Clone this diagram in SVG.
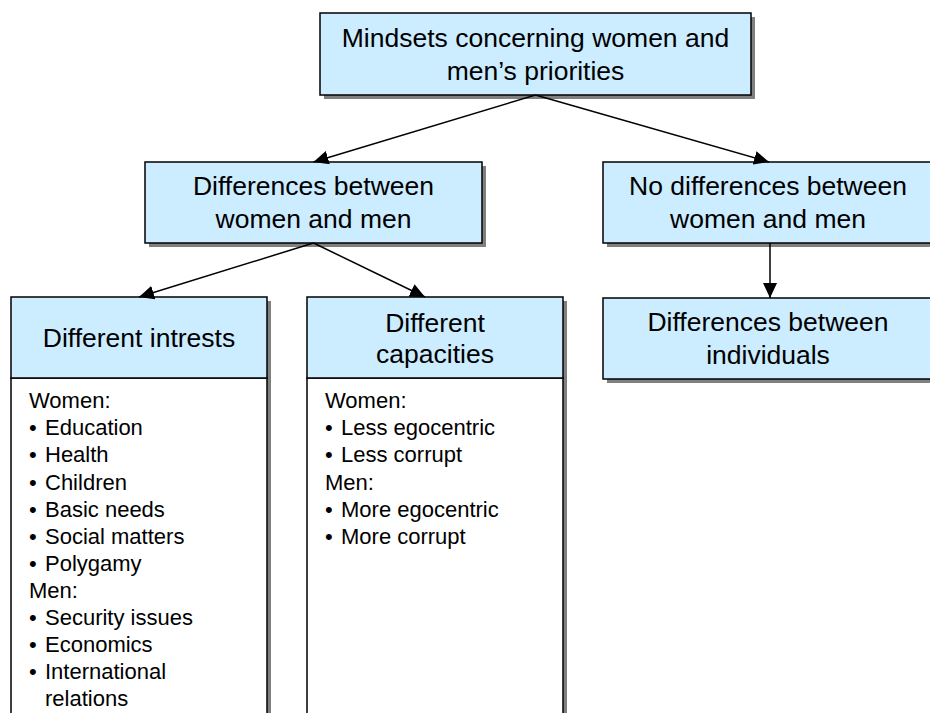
<svg xmlns="http://www.w3.org/2000/svg" width="930" height="713" viewBox="0 0 930 713">
<defs>
<marker id="arr" markerUnits="userSpaceOnUse" markerWidth="16" markerHeight="14" refX="15" refY="7" orient="auto">
<path d="M0,0 L15,7 L0,14 Z" fill="#000"/>
</marker>
</defs>
<style>
.sh{fill:#808080;stroke:none}
.hd{fill:#CCECFF;stroke:#000;stroke-width:1.5}
.bd{fill:#FFFFFF;stroke:#000;stroke-width:1.5}
.t{font-family:"Liberation Sans",Arial,sans-serif;font-size:26.5px;fill:#000;text-anchor:middle}
.b{font-family:"Liberation Sans",Arial,sans-serif;font-size:22px;fill:#000}
.c{stroke:#000;stroke-width:1.5;fill:none;marker-end:url(#arr)}
</style>
<rect width="930" height="713" fill="#fff"/>
<g id="n-top">
<rect class="sh" x="324" y="17" width="431" height="82"/>
<rect class="hd" x="320" y="13" width="431" height="82"/>
<text class="t" x="535.5" y="47">Mindsets concerning women and</text>
<text class="t" x="535.5" y="80">men’s priorities</text>
</g>
<g id="n-diff">
<rect class="sh" x="149" y="166" width="337" height="81"/>
<rect class="hd" x="145" y="162" width="337" height="81"/>
<text class="t" x="313.5" y="195">Differences between</text>
<text class="t" x="313.5" y="228">women and men</text>
</g>
<g id="n-nodiff">
<rect class="sh" x="607" y="166" width="330" height="81"/>
<rect class="hd" x="603" y="162" width="330" height="81"/>
<text class="t" x="768" y="195">No differences between</text>
<text class="t" x="768" y="228">women and men</text>
</g>
<g id="n-indiv">
<rect class="sh" x="607" y="302" width="330" height="81"/>
<rect class="hd" x="603" y="298" width="330" height="81"/>
<text class="t" x="768" y="331">Differences between</text>
<text class="t" x="768" y="364">individuals</text>
</g>
<g id="n-interests">
<rect class="sh" x="15" y="301" width="256" height="420"/>
<rect class="bd" x="11" y="378" width="256" height="340"/>
<rect class="hd" x="11" y="297" width="256" height="81"/>
<text class="t" x="139" y="347">Different intrests</text>
<text class="b" x="29" y="408">Women:</text>
<text class="b" x="29" y="435">•</text><text class="b" x="45" y="435">Education</text>
<text class="b" x="29" y="462">•</text><text class="b" x="45" y="462">Health</text>
<text class="b" x="29" y="490">•</text><text class="b" x="45" y="490">Children</text>
<text class="b" x="29" y="517">•</text><text class="b" x="45" y="517">Basic needs</text>
<text class="b" x="29" y="544">•</text><text class="b" x="45" y="544">Social matters</text>
<text class="b" x="29" y="571">•</text><text class="b" x="45" y="571">Polygamy</text>
<text class="b" x="29" y="598">Men:</text>
<text class="b" x="29" y="625">•</text><text class="b" x="45" y="625">Security issues</text>
<text class="b" x="29" y="652">•</text><text class="b" x="45" y="652">Economics</text>
<text class="b" x="29" y="679">•</text><text class="b" x="45" y="679">International</text>
<text class="b" x="45" y="706">relations</text>
</g>
<g id="n-capacities">
<rect class="sh" x="311" y="301" width="256" height="420"/>
<rect class="bd" x="307" y="378" width="256" height="340"/>
<rect class="hd" x="307" y="297" width="256" height="81"/>
<text class="t" x="435" y="332">Different</text>
<text class="t" x="435" y="363">capacities</text>
<text class="b" x="325" y="408">Women:</text>
<text class="b" x="325" y="435">•</text><text class="b" x="341" y="435">Less egocentric</text>
<text class="b" x="325" y="462">•</text><text class="b" x="341" y="462">Less corrupt</text>
<text class="b" x="325" y="490">Men:</text>
<text class="b" x="325" y="517">•</text><text class="b" x="341" y="517">More egocentric</text>
<text class="b" x="325" y="544">•</text><text class="b" x="341" y="544">More corrupt</text>
</g>
<g id="connectors">
<line class="c" x1="535.5" y1="95" x2="313.5" y2="162"/>
<line class="c" x1="535.5" y1="95" x2="769" y2="162"/>
<line class="c" x1="313.5" y1="243" x2="139" y2="297"/>
<line class="c" x1="313.5" y1="243" x2="425" y2="297"/>
<line class="c" x1="770" y1="243" x2="770" y2="298"/>
</g>
</svg>
